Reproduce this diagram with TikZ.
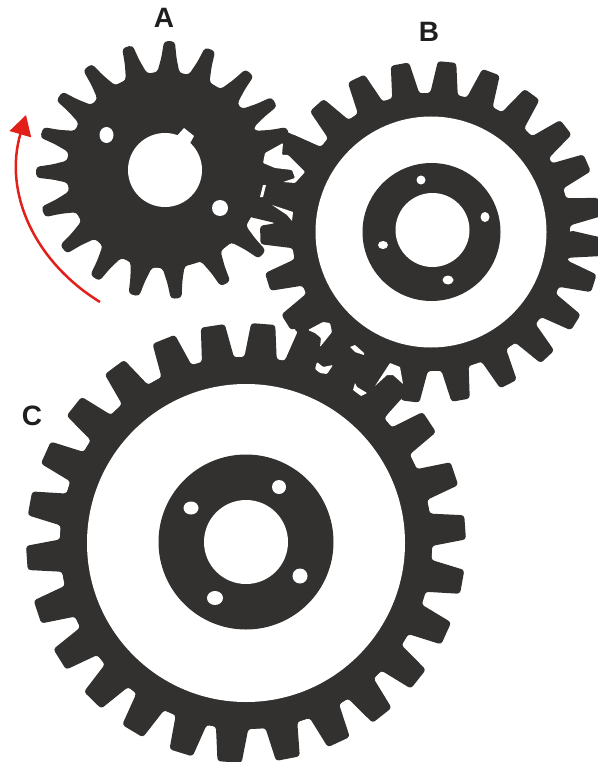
\documentclass[tikz,border=0pt]{standalone}
\usepackage{fontspec}
\setmainfont{Liberation Sans}
\usetikzlibrary{arrows.meta}
\definecolor{gearink}{HTML}{323130}
\definecolor{labelink}{HTML}{1F1F1F}
\definecolor{arrowred}{HTML}{E2201A}
\tikzset{
  ink/.style={fill=gearink},
  blank/.style={fill=white},
  gearlabel/.style={font=\bfseries\fontsize{28}{28}\selectfont,text=labelink,inner sep=0pt},
}
% cx cy root tip dbase dtip startangle list corner
\newcommand\gearfill[9]{%
  \begin{scope}[shift={(#1,#2)},yscale=-1]
    \fill[ink] (0,0) circle (#3);
    \fill[ink,rounded corners=#9] (#7:#3)
      \foreach \a in {#8} { -- ({\a-#5}:#3) -- ({\a-#6}:#4) -- ({\a+#6}:#4) -- ({\a+#5}:#3) }
      -- cycle;
  \end{scope}}
\begin{document}
\begin{tikzpicture}[x=1pt,y=-1pt]
\useasboundingbox (0,0) rectangle (597,762);
% gear A: slim flared teeth
\begin{scope}[shift={(165,170)},yscale=-1]
  \fill[ink] (0,0) circle (98);
  \fill[ink,rounded corners=3.5pt] (8:98)
    \foreach \a in {17,32,49,69.5,88,107,127,145,163,181,199,218,237,256,275,298,319,340,359}
      { -- ({\a-6.5}:98) -- ({\a-3.8}:113) -- ({\a-2.4}:129) -- ({\a+2.4}:129) -- ({\a+3.8}:113) -- ({\a+6.5}:98) }
    -- cycle;
\end{scope}
\gearfill{431}{232}{139}{171}{5.7}{3.1}{0}{8.4,23.9,37.8,53.7,69.4,84.6,100.5,116,132,148,165,181,197,212,228,246,263,280,297,313,328,342.5,355}{3pt}
\gearfill{246}{543}{186}{220}{5}{3.15}{-3}{4.1,18.4,33.4,47,60,73,85.5,98.7,112,126.8,141.5,155.7,169.6,183.9,198.3,212,225.7,238.9,252.8,265.7,281,295,308.3,321.7,335.7,349.8}{3pt}
% merged mesh regions
\fill[ink,rounded corners=1.5pt] (257,132) -- (287,132) -- (320,147) -- (337,167) -- (317,233) -- (262,228) -- (275,223) -- (250,217) -- (250,132) -- cycle;
\fill[ink,rounded corners=1.5pt] (298,333) -- (287,320) -- (293,310) -- (407,340) -- (422,370) -- (418,401) -- (403,397) -- (385,417) -- (290,377) -- (290,362) -- cycle;
% gaps left inside the meshes
\fill[blank,rounded corners=1pt] (283,143) -- (265,153) -- (263,163) -- (275,168) -- (292,170) -- (295,178) -- (283,182) -- (295,183) -- (305,172) -- (288,155) -- (282,155) -- cycle;
\fill[blank] (260,197) -- (263,185) -- (266,185) -- (263,197) -- cycle;
\fill[blank,rounded corners=0.5pt] (272,205) -- (287,210) -- (293,212) -- (292,221) -- (287,215) -- cycle;
\fill[blank,rounded corners=1pt] (308,330) -- (323,322) -- (330,323) -- (332,332) -- (320,347) -- (321,338) -- (315,333) -- cycle;
\fill[blank,rounded corners=0.5pt] (350,347) -- (355,345) -- (364,353) -- (364,355) -- (355,352) -- cycle;
\fill[blank,rounded corners=1pt] (317,362) -- (323,367) -- (333,365) -- (327,374) -- (320,373) -- (315,369) -- cycle;
\fill[blank,rounded corners=0.5pt] (355,383) -- (357,387) -- (367,393) -- (361,396) -- (353,390) -- cycle;
\fill[blank,rounded corners=0.5pt] (375,386) -- (390,363) -- (400,367) -- (403,384) -- (393,375) -- (387,375) -- cycle;
% gear A openings
\fill[blank] (165,170) circle (37);
\fill[blank] (184,128) -- (194,136) -- (188,147) -- (176,137) -- cycle;
\fill[blank] (106.5,135) ellipse (7 and 8);
\fill[blank] (220,208) circle (8);
% gear B openings
\fill[blank] (431,232) circle (115.5);
\fill[ink] (431.5,232) circle (69);
\fill[blank] (432.5,230) circle (37);
\fill[blank] (421,180) circle (4.5);
\fill[blank] (485,217) ellipse (4.5 and 5);
\fill[blank] (383,245) ellipse (5 and 4);
\fill[blank] (448,280) ellipse (5.5 and 4.5);
% gear C openings
\fill[blank] (246,543) circle (159);
\fill[ink] (246,542) circle (87.5);
\fill[blank] (246,542) circle (42);
\fill[blank] (279,487) circle (7);
\fill[blank] (191,508) ellipse (7.5 and 6.5);
\fill[blank] (215,598) ellipse (8 and 7);
\fill[blank] (300,576) circle (7.5);
% rotation arrow
\coordinate (arrowstart) at (100,302);
\coordinate (arrowend) at (26,115);
\draw[arrowred,line width=2.5pt,-{Triangle[length=20pt,width=22pt]}] (arrowstart) .. controls (35,262) and (3,193) .. (arrowend);
% labels
\node[gearlabel] (labelA) at (164,18) {A};
\node[gearlabel] (labelB) at (429,32) {B};
\node[gearlabel] (labelC) at (32,416) {C};
\end{tikzpicture}
\end{document}
